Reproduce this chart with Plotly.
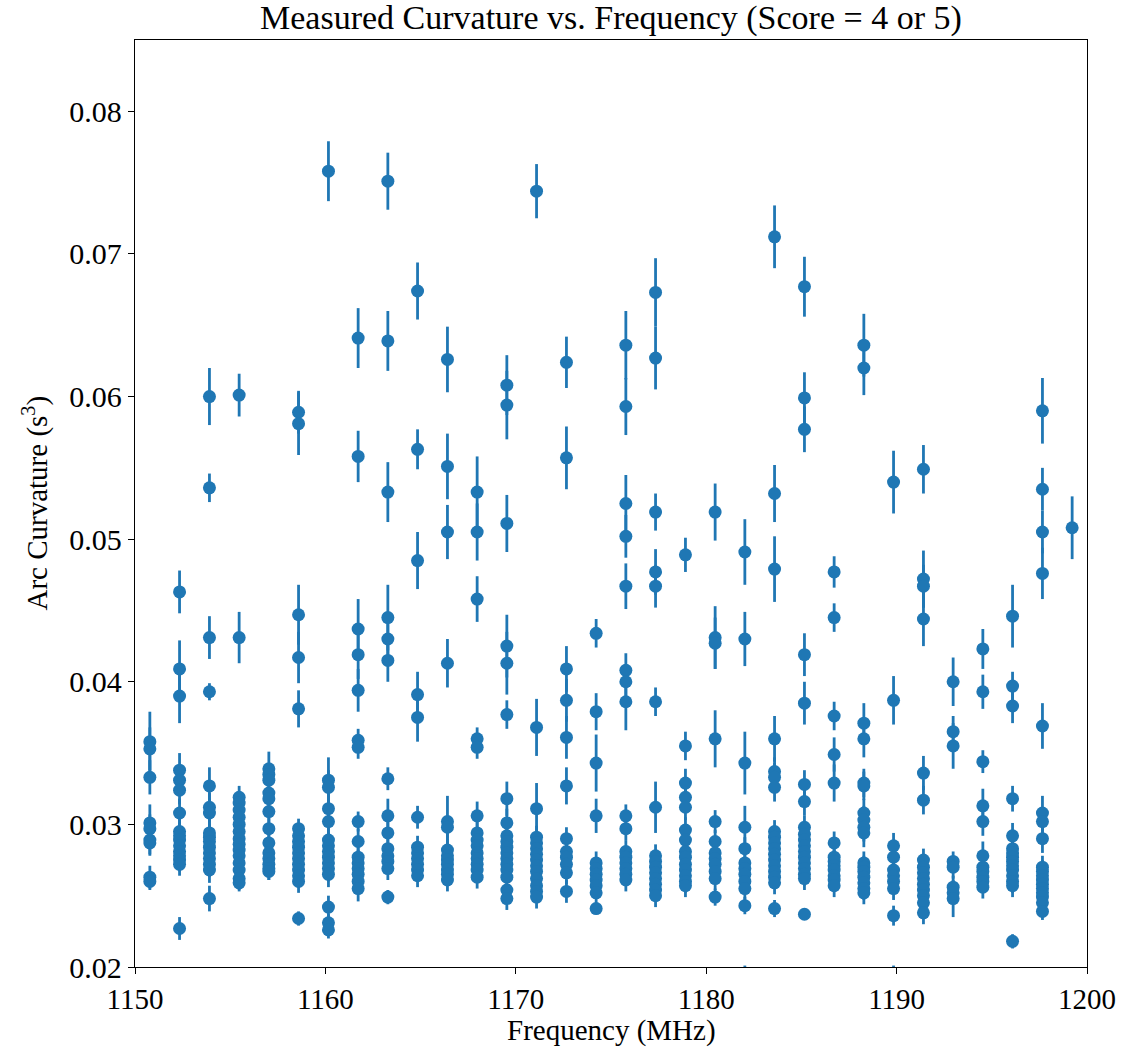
import plotly.graph_objects as go

# Channel centre frequencies (MHz)
channel_freqs = [1150.78, 1152.34, 1153.91, 1155.47, 1157.03, 1158.59, 1160.16, 1161.72,
                 1163.28, 1164.84, 1166.41, 1167.97, 1169.53, 1171.09, 1172.66, 1174.22,
                 1175.78, 1177.34, 1178.91, 1180.47, 1182.03, 1183.59, 1185.16, 1186.72,
                 1188.28, 1189.84, 1191.41, 1192.97, 1194.53, 1196.09, 1197.66, 1199.22]

# Measured curvature values (s^3) and 1-sigma errors, per channel
ch01_val = [0.0358, 0.0353, 0.0333, 0.0301, 0.0297, 0.0289, 0.0287, 0.0263, 0.0260]
ch01_err = [0.0021, 0.0015, 0.0012, 0.0013, 0.0010, 0.0010, 0.0009, 0.0008, 0.0006]
ch02_val = [0.0463, 0.0409, 0.0390, 0.0338, 0.0331, 0.0324, 0.0308, 0.0295, 0.0292, 0.0289,
            0.0285, 0.0281, 0.0278, 0.0275, 0.0272, 0.0227]
ch02_err = [0.0015, 0.0020, 0.0019, 0.0012, 0.0010, 0.0010, 0.0010, 0.0009, 0.0009, 0.0009,
            0.0009, 0.0009, 0.0009, 0.0008, 0.0008, 0.0008]
ch03_val = [0.0600, 0.0536, 0.0431, 0.0393, 0.0327, 0.0312, 0.0308, 0.0294, 0.0291, 0.0288,
            0.0284, 0.0280, 0.0276, 0.0272, 0.0268, 0.0248]
ch03_err = [0.0020, 0.0010, 0.0015, 0.0006, 0.0013, 0.0010, 0.0010, 0.0009, 0.0009, 0.0009,
            0.0009, 0.0009, 0.0009, 0.0009, 0.0009, 0.0009]
ch04_val = [0.0601, 0.0431, 0.0319, 0.0315, 0.0310, 0.0305, 0.0300, 0.0295, 0.0290, 0.0286,
            0.0282, 0.0278, 0.0273, 0.0268, 0.0262, 0.0259]
ch04_err = [0.0015, 0.0018, 0.0008, 0.0008, 0.0008, 0.0008, 0.0008, 0.0008, 0.0008, 0.0008,
            0.0008, 0.0008, 0.0008, 0.0008, 0.0008, 0.0006]
ch05_val = [0.0339, 0.0335, 0.0331, 0.0322, 0.0318, 0.0309, 0.0297, 0.0287, 0.0280, 0.0276,
            0.0272, 0.0269, 0.0267]
ch05_err = [0.0012, 0.0008, 0.0008, 0.0008, 0.0008, 0.0008, 0.0008, 0.0008, 0.0008, 0.0008,
            0.0008, 0.0008, 0.0006]
ch06_val = [0.0589, 0.0581, 0.0447, 0.0417, 0.0381, 0.0297, 0.0292, 0.0288, 0.0284, 0.0280,
            0.0276, 0.0272, 0.0268, 0.0264, 0.0260, 0.0234]
ch06_err = [0.0015, 0.0022, 0.0021, 0.0018, 0.0013, 0.0007, 0.0008, 0.0008, 0.0008, 0.0008,
            0.0008, 0.0008, 0.0008, 0.0008, 0.0008, 0.0005]
ch07_val = [0.0758, 0.0331, 0.0326, 0.0311, 0.0302, 0.0289, 0.0285, 0.0281, 0.0277, 0.0273,
            0.0269, 0.0265, 0.0242, 0.0231, 0.0226]
ch07_err = [0.0021, 0.0016, 0.0012, 0.0010, 0.0009, 0.0009, 0.0009, 0.0009, 0.0009, 0.0009,
            0.0009, 0.0009, 0.0008, 0.0006, 0.0006]
ch08_val = [0.0641, 0.0558, 0.0437, 0.0419, 0.0394, 0.0359, 0.0354, 0.0302, 0.0288, 0.0277,
            0.0273, 0.0269, 0.0265, 0.0260, 0.0255]
ch08_err = [0.0021, 0.0018, 0.0021, 0.0017, 0.0015, 0.0008, 0.0008, 0.0007, 0.0009, 0.0009,
            0.0009, 0.0009, 0.0009, 0.0009, 0.0009]
ch09_val = [0.0751, 0.0639, 0.0533, 0.0445, 0.0430, 0.0415, 0.0332, 0.0306, 0.0294, 0.0283,
            0.0278, 0.0274, 0.0269, 0.0249]
ch09_err = [0.0020, 0.0021, 0.0021, 0.0023, 0.0015, 0.0015, 0.0008, 0.0012, 0.0010, 0.0008,
            0.0008, 0.0008, 0.0008, 0.0005]
ch10_val = [0.0674, 0.0563, 0.0485, 0.0391, 0.0375, 0.0305, 0.0284, 0.0280, 0.0276, 0.0272,
            0.0268, 0.0264]
ch10_err = [0.0020, 0.0014, 0.0020, 0.0016, 0.0017, 0.0008, 0.0008, 0.0008, 0.0008, 0.0008,
            0.0008, 0.0008]
ch11_val = [0.0626, 0.0551, 0.0505, 0.0413, 0.0302, 0.0298, 0.0282, 0.0278, 0.0275, 0.0272,
            0.0268, 0.0265, 0.0261]
ch11_err = [0.0023, 0.0023, 0.0019, 0.0017, 0.0018, 0.0008, 0.0008, 0.0008, 0.0008, 0.0008,
            0.0008, 0.0008, 0.0008]
ch12_val = [0.0533, 0.0505, 0.0458, 0.0360, 0.0354, 0.0306, 0.0294, 0.0289, 0.0285, 0.0280,
            0.0276, 0.0272, 0.0268, 0.0263]
ch12_err = [0.0025, 0.0020, 0.0016, 0.0008, 0.0008, 0.0010, 0.0008, 0.0008, 0.0008, 0.0008,
            0.0008, 0.0008, 0.0008, 0.0008]
ch13_val = [0.0608, 0.0594, 0.0511, 0.0425, 0.0413, 0.0377, 0.0318, 0.0301, 0.0292, 0.0288,
            0.0284, 0.0280, 0.0276, 0.0272, 0.0268, 0.0263, 0.0254, 0.0248]
ch13_err = [0.0021, 0.0024, 0.0020, 0.0022, 0.0022, 0.0010, 0.0012, 0.0010, 0.0008, 0.0008,
            0.0008, 0.0008, 0.0008, 0.0008, 0.0008, 0.0008, 0.0008, 0.0008]
ch14_val = [0.0744, 0.0368, 0.0311, 0.0291, 0.0287, 0.0283, 0.0279, 0.0275, 0.0271, 0.0267,
            0.0262, 0.0257, 0.0253, 0.0249]
ch14_err = [0.0019, 0.0020, 0.0018, 0.0008, 0.0008, 0.0008, 0.0008, 0.0008, 0.0008, 0.0008,
            0.0008, 0.0008, 0.0008, 0.0008]
ch15_val = [0.0624, 0.0557, 0.0409, 0.0387, 0.0361, 0.0327, 0.0290, 0.0281, 0.0277, 0.0272,
            0.0266, 0.0253]
ch15_err = [0.0018, 0.0022, 0.0016, 0.0015, 0.0015, 0.0013, 0.0008, 0.0008, 0.0008, 0.0008,
            0.0008, 0.0008]
ch16_val = [0.0434, 0.0379, 0.0343, 0.0306, 0.0273, 0.0269, 0.0265, 0.0261, 0.0257, 0.0252,
            0.0241]
ch16_err = [0.0010, 0.0013, 0.0020, 0.0012, 0.0008, 0.0008, 0.0008, 0.0008, 0.0008, 0.0008,
            0.0004]
ch17_val = [0.0636, 0.0593, 0.0525, 0.0502, 0.0467, 0.0408, 0.0400, 0.0386, 0.0306, 0.0297,
            0.0281, 0.0277, 0.0273, 0.0269, 0.0265, 0.0261]
ch17_err = [0.0024, 0.0020, 0.0020, 0.0015, 0.0016, 0.0012, 0.0012, 0.0020, 0.0008, 0.0008,
            0.0008, 0.0008, 0.0008, 0.0008, 0.0008, 0.0008]
ch18_val = [0.0673, 0.0627, 0.0519, 0.0477, 0.0467, 0.0386, 0.0312, 0.0278, 0.0274, 0.0270,
            0.0266, 0.0262, 0.0258, 0.0254, 0.0250]
ch18_err = [0.0024, 0.0022, 0.0013, 0.0016, 0.0015, 0.0010, 0.0018, 0.0008, 0.0008, 0.0008,
            0.0008, 0.0008, 0.0008, 0.0008, 0.0008]
ch19_val = [0.0489, 0.0355, 0.0329, 0.0319, 0.0312, 0.0296, 0.0289, 0.0281, 0.0277, 0.0272,
            0.0268, 0.0264, 0.0260, 0.0257]
ch19_err = [0.0012, 0.0010, 0.0010, 0.0009, 0.0009, 0.0009, 0.0009, 0.0008, 0.0008, 0.0008,
            0.0008, 0.0008, 0.0008, 0.0008]
ch20_val = [0.0519, 0.0431, 0.0427, 0.0360, 0.0302, 0.0288, 0.0280, 0.0276, 0.0272, 0.0267,
            0.0262, 0.0249]
ch20_err = [0.0020, 0.0022, 0.0018, 0.0020, 0.0008, 0.0008, 0.0008, 0.0008, 0.0008, 0.0008,
            0.0008, 0.0006]
ch21_val = [0.0491, 0.0430, 0.0343, 0.0298, 0.0283, 0.0273, 0.0269, 0.0265, 0.0260, 0.0255,
            0.0243, 0.0195]
ch21_err = [0.0023, 0.0019, 0.0022, 0.0015, 0.0008, 0.0008, 0.0008, 0.0008, 0.0008, 0.0008,
            0.0006, 0.0006]
ch22_val = [0.0712, 0.0532, 0.0479, 0.0360, 0.0337, 0.0333, 0.0326, 0.0295, 0.0291, 0.0287,
            0.0283, 0.0279, 0.0275, 0.0271, 0.0267, 0.0263, 0.0259, 0.0241]
ch22_err = [0.0022, 0.0020, 0.0023, 0.0016, 0.0010, 0.0010, 0.0010, 0.0008, 0.0008, 0.0008,
            0.0008, 0.0008, 0.0008, 0.0008, 0.0008, 0.0008, 0.0008, 0.0006]
ch23_val = [0.0677, 0.0599, 0.0577, 0.0419, 0.0385, 0.0328, 0.0316, 0.0298, 0.0293, 0.0289,
            0.0285, 0.0281, 0.0277, 0.0273, 0.0269, 0.0265, 0.0262, 0.0237]
ch23_err = [0.0021, 0.0018, 0.0016, 0.0015, 0.0015, 0.0010, 0.0010, 0.0008, 0.0008, 0.0008,
            0.0008, 0.0008, 0.0008, 0.0008, 0.0008, 0.0008, 0.0008, 0.0004]
ch24_val = [0.0477, 0.0445, 0.0376, 0.0349, 0.0329, 0.0287, 0.0277, 0.0274, 0.0271, 0.0268,
            0.0264, 0.0261, 0.0257]
ch24_err = [0.0011, 0.0010, 0.0010, 0.0012, 0.0013, 0.0008, 0.0008, 0.0008, 0.0008, 0.0008,
            0.0008, 0.0008, 0.0008]
ch25_val = [0.0636, 0.0620, 0.0371, 0.0360, 0.0329, 0.0327, 0.0308, 0.0303, 0.0298, 0.0294,
            0.0273, 0.0270, 0.0267, 0.0263, 0.0259, 0.0255, 0.0252]
ch25_err = [0.0022, 0.0019, 0.0014, 0.0013, 0.0010, 0.0010, 0.0010, 0.0010, 0.0010, 0.0010,
            0.0008, 0.0008, 0.0008, 0.0008, 0.0008, 0.0008, 0.0008]
ch26_val = [0.0540, 0.0387, 0.0285, 0.0277, 0.0268, 0.0264, 0.0260, 0.0255, 0.0236, 0.0195]
ch26_err = [0.0022, 0.0017, 0.0009, 0.0008, 0.0008, 0.0008, 0.0008, 0.0008, 0.0007, 0.0006]
ch27_val = [0.0549, 0.0472, 0.0467, 0.0444, 0.0336, 0.0317, 0.0275, 0.0270, 0.0266, 0.0262,
            0.0258, 0.0254, 0.0250, 0.0245, 0.0238]
ch27_err = [0.0017, 0.0020, 0.0015, 0.0019, 0.0012, 0.0010, 0.0008, 0.0008, 0.0008, 0.0008,
            0.0008, 0.0008, 0.0008, 0.0008, 0.0008]
ch28_val = [0.0400, 0.0365, 0.0355, 0.0274, 0.0270, 0.0256, 0.0252, 0.0248]
ch28_err = [0.0017, 0.0011, 0.0016, 0.0007, 0.0008, 0.0008, 0.0008, 0.0013]
ch29_val = [0.0423, 0.0393, 0.0344, 0.0313, 0.0302, 0.0278, 0.0270, 0.0267, 0.0263, 0.0260,
            0.0256]
ch29_err = [0.0014, 0.0012, 0.0008, 0.0012, 0.0010, 0.0010, 0.0008, 0.0008, 0.0008, 0.0008,
            0.0008]
ch30_val = [0.0446, 0.0397, 0.0383, 0.0318, 0.0292, 0.0283, 0.0280, 0.0277, 0.0274, 0.0271,
            0.0268, 0.0264, 0.0260, 0.0257, 0.0218]
ch30_err = [0.0022, 0.0010, 0.0012, 0.0009, 0.0009, 0.0008, 0.0008, 0.0008, 0.0008, 0.0008,
            0.0008, 0.0008, 0.0008, 0.0008, 0.0005]
ch31_val = [0.0590, 0.0535, 0.0505, 0.0476, 0.0369, 0.0308, 0.0302, 0.0290, 0.0270, 0.0267,
            0.0264, 0.0261, 0.0258, 0.0255, 0.0252, 0.0249, 0.0245, 0.0239]
ch31_err = [0.0023, 0.0015, 0.0015, 0.0018, 0.0016, 0.0012, 0.0010, 0.0010, 0.0008, 0.0008,
            0.0008, 0.0008, 0.0008, 0.0008, 0.0008, 0.0008, 0.0008, 0.0006]
ch32_val = [0.0508]
ch32_err = [0.0022]

channel_vals = [ch01_val, ch02_val, ch03_val, ch04_val, ch05_val, ch06_val, ch07_val, ch08_val,
                ch09_val, ch10_val, ch11_val, ch12_val, ch13_val, ch14_val, ch15_val, ch16_val,
                ch17_val, ch18_val, ch19_val, ch20_val, ch21_val, ch22_val, ch23_val, ch24_val,
                ch25_val, ch26_val, ch27_val, ch28_val, ch29_val, ch30_val, ch31_val, ch32_val]
channel_errs = [ch01_err, ch02_err, ch03_err, ch04_err, ch05_err, ch06_err, ch07_err, ch08_err,
                ch09_err, ch10_err, ch11_err, ch12_err, ch13_err, ch14_err, ch15_err, ch16_err,
                ch17_err, ch18_err, ch19_err, ch20_err, ch21_err, ch22_err, ch23_err, ch24_err,
                ch25_err, ch26_err, ch27_err, ch28_err, ch29_err, ch30_err, ch31_err, ch32_err]

xs, ys, es = [], [], []
for f, vals, errs in zip(channel_freqs, channel_vals, channel_errs):
    for v, e in zip(vals, errs):
        xs.append(f)
        ys.append(v)
        es.append(e)

BLUE = "#1f77b4"
FONT = "Liberation Serif, Times New Roman, serif"

fig = go.Figure()
fig.add_trace(go.Scatter(
    x=xs, y=ys, mode="markers",
    marker=dict(color=BLUE, size=13, line=dict(width=0)),
    error_y=dict(type="data", array=es, visible=True, color=BLUE, thickness=2.8, width=0),
    showlegend=False,
))

fig.update_layout(
    width=1127, height=1051,
    margin=dict(l=135, r=40, t=40, b=84),
    paper_bgcolor="white", plot_bgcolor="white",
    font=dict(family=FONT, size=29, color="black"),
    showlegend=False,
)
fig.update_xaxes(
    range=[1150, 1200], tickvals=[1150, 1160, 1170, 1180, 1190, 1200],
    showgrid=False, zeroline=False, showline=True, linecolor="black", linewidth=1.3,
    mirror=True, ticks="outside", ticklen=6, tickwidth=1.3, tickcolor="black",
    tickfont=dict(family=FONT, size=29),
)
fig.update_yaxes(
    range=[0.02, 0.085], tickvals=[0.02, 0.03, 0.04, 0.05, 0.06, 0.07, 0.08],
    tickformat=".2f",
    showgrid=False, zeroline=False, showline=True, linecolor="black", linewidth=1.3,
    mirror=True, ticks="outside", ticklen=6, tickwidth=1.3, tickcolor="black",
    tickfont=dict(family=FONT, size=30),
)

fig.add_annotation(text="Measured Curvature vs. Frequency (Score = 4 or 5)",
                   xref="paper", yref="paper", x=0.5, y=1.0237, xanchor="center", yanchor="middle",
                   showarrow=False, font=dict(family=FONT, size=34, color="black"))
fig.add_annotation(text="Frequency (MHz)",
                   xref="paper", yref="paper", x=0.5, y=-0.068, xanchor="center", yanchor="middle",
                   showarrow=False, font=dict(family=FONT, size=29, color="black"))
fig.add_annotation(text="Arc Curvature (s<sup>3</sup>)",
                   xref="paper", yref="paper", x=-0.105, y=0.5, xanchor="center", yanchor="middle",
                   textangle=-90, showarrow=False, font=dict(family=FONT, size=29, color="black"))

fig.write_html("out.html")
